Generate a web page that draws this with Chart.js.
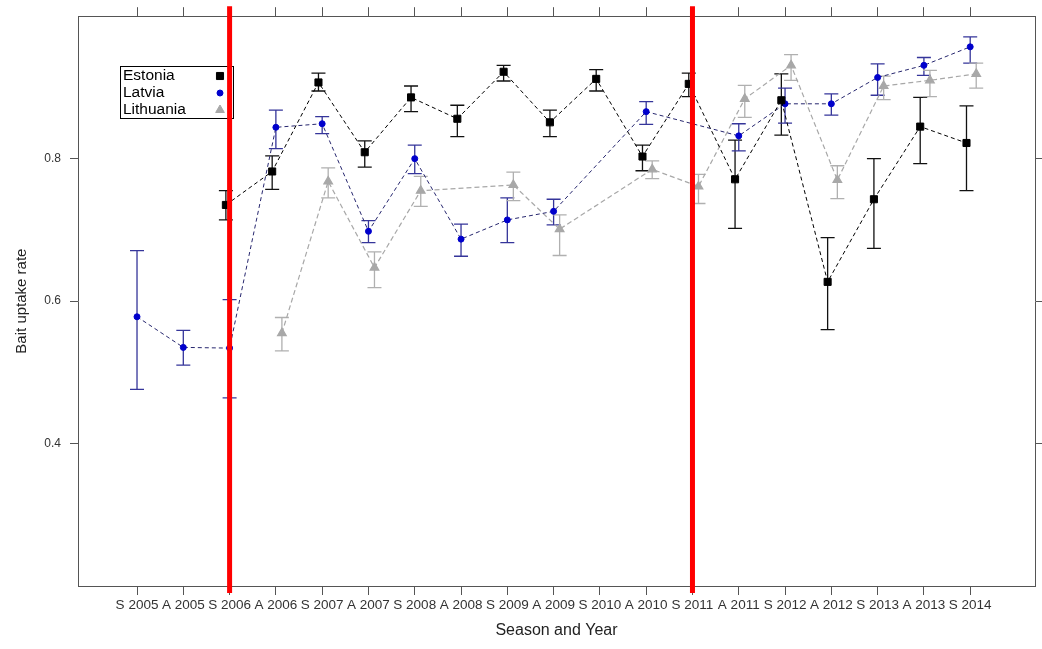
<!DOCTYPE html>
<html>
<head>
<meta charset="utf-8">
<script src="https://cdn.jsdelivr.net/npm/chart.js@4.4.1/dist/chart.umd.min.js"></script>
<style>
  body { margin: 0; background: #fff; }
  canvas { display: block; }
</style>
</head>
<body>
<canvas id="baitChart" width="1042" height="649"></canvas>
<script>
// categorias del eje x
var seasons = ['S 2005','A 2005','S 2006','A 2006','S 2007','A 2007','S 2008','A 2008','S 2009','A 2009',
               'S 2010','A 2010','S 2011','A 2011','S 2012','A 2012','S 2013','A 2013','S 2014'];

// Estonia
var estonia   = [null,null,0.735,0.782,0.907,0.809,0.886,0.856,0.922,0.851,0.912,0.803,0.905,0.771,0.882,0.627,0.743,0.845,0.822];
var estoniaHi = [null,null,0.755,0.804,0.920,0.825,0.902,0.875,0.931,0.868,0.925,0.819,0.920,0.826,0.919,0.689,0.800,0.886,0.874];
var estoniaLo = [null,null,0.714,0.757,0.895,0.788,0.866,0.831,0.909,0.831,0.895,0.783,0.887,0.702,0.833,0.560,0.674,0.793,0.755];

// Latvia
var latvia   = [0.578,0.535,0.534,0.844,0.849,0.698,0.800,0.687,0.714,0.726,null,0.866,null,0.832,0.877,0.877,0.914,0.931,0.957];
var latviaHi = [0.671,0.559,0.602,0.868,0.859,0.713,0.819,0.708,0.745,0.743,null,0.880,null,0.849,0.899,0.891,0.933,0.942,0.971];
var latviaLo = [0.476,0.510,0.464,0.814,0.835,0.682,0.779,0.663,0.682,0.707,null,0.848,null,0.811,0.850,0.861,0.889,0.917,0.934];

// Lithuania
var lithuania   = [null,null,null,0.555,0.768,0.647,0.755,null,0.763,0.701,null,0.785,0.761,0.884,0.931,0.770,0.902,0.910,0.919];
var lithuaniaHi = [null,null,null,0.577,0.787,0.669,0.775,null,0.781,0.721,null,0.797,0.778,0.903,0.946,0.790,0.916,0.924,0.934];
var lithuaniaLo = [null,null,null,0.530,0.745,0.619,0.733,null,0.741,0.664,null,0.772,0.737,0.858,0.910,0.744,0.883,0.887,0.899];

// ticks del eje y y lineas rojas
var yTicks = [0.4, 0.6, 0.8];
var redLines = ['S 2006', 'S 2011'];

var FONT = "'Liberation Sans', Arial, sans-serif";
var AXIS_COLOR = '#555';

// arma los puntos {x,y,lo,hi} con un pequeño corrimiento por pais
function points(vals, lo, hi, shift) {
	var out = [];
	for (var i = 0; i < vals.length; i++) {
		if (vals[i] == null) continue;
		out.push({ x: i + shift, y: vals[i], lo: lo[i], hi: hi[i] });
	}
	return out;
}

function categoryTicks(axis) {
	axis.ticks = seasons.map(function (s, i) { return { value: i }; });
}

// barras de error (antes de dibujar los puntos)
var errorBars = {
	id: 'errorBars',
	beforeDatasetsDraw: function (chart) {
		var ctx = chart.ctx;
		var y = chart.scales.y;
		chart.data.datasets.forEach(function (ds, d) {
			var meta = chart.getDatasetMeta(d);
			ctx.save();
			ctx.strokeStyle = ds.errorColor;
			ctx.lineWidth = 1.3;
			meta.data.forEach(function (pt, i) {
				var raw = ds.data[i];
				var top = y.getPixelForValue(raw.hi);
				var bot = y.getPixelForValue(raw.lo);
				ctx.beginPath();
				ctx.moveTo(pt.x, top); ctx.lineTo(pt.x, bot);
				ctx.moveTo(pt.x - 7, top); ctx.lineTo(pt.x + 7, top);
				ctx.moveTo(pt.x - 7, bot); ctx.lineTo(pt.x + 7, bot);
				ctx.stroke();
			});
			ctx.restore();
		});
	}
};

// lineas rojas verticales
var redMarks = {
	id: 'redMarks',
	afterDraw: function (chart) {
		var ctx = chart.ctx;
		var area = chart.chartArea;
		ctx.save();
		ctx.strokeStyle = '#ff0000';
		ctx.lineWidth = 5;
		redLines.forEach(function (s) {
			var px = chart.scales.x.getPixelForValue(seasons.indexOf(s));
			ctx.beginPath();
			ctx.moveTo(px, area.top - 10);
			ctx.lineTo(px, area.bottom + 7);
			ctx.stroke();
		});
		ctx.restore();
	}
};

// leyenda con simbolos a la derecha
var boxLegend = {
	id: 'boxLegend',
	afterDatasetsDraw: function (chart) {
		var ctx = chart.ctx;
		ctx.save();
		ctx.fillStyle = '#fff';
		ctx.fillRect(120.5, 66.5, 113, 52);
		ctx.strokeStyle = '#000';
		ctx.lineWidth = 1;
		ctx.strokeRect(120.5, 66.5, 113, 52);
		ctx.font = '15.5px ' + FONT;
		ctx.textBaseline = 'middle';
		chart.data.datasets.forEach(function (ds, i) {
			var yy = 76 + i * 17;
			ctx.fillStyle = '#000';
			ctx.fillText(ds.label, 123, yy);
			ctx.fillStyle = ds.pointBackgroundColor;
			ctx.strokeStyle = ds.pointBorderColor;
			Chart.helpers.drawPoint(ctx, {
				pointStyle: ds.pointStyle, radius: ds.pointRadius, rotation: 0, borderWidth: 1
			}, 220, yy);
		});
		ctx.restore();
	}
};

var ctx = document.getElementById('baitChart');
var chart = new Chart(ctx, {
	type: 'line',
	data: {
		datasets: [{
			label: 'Estonia',
			data: points(estonia, estoniaLo, estoniaHi, -0.08),
			borderColor: '#000',
			borderWidth: 1,
			borderDash: [4, 3],
			pointStyle: 'rect',
			pointRadius: 5,
			pointBackgroundColor: '#000',
			pointBorderColor: '#000',
			errorColor: '#111',
			spanGaps: true
		},
		{
			label: 'Latvia',
			data: points(latvia, latviaLo, latviaHi, 0),
			borderColor: '#26266e',
			borderWidth: 1,
			borderDash: [4, 3],
			pointStyle: 'circle',
			pointRadius: 3,
			pointBackgroundColor: '#0000cc',
			pointBorderColor: '#0000cc',
			errorColor: '#35359a',
			spanGaps: true
		},
		{
			label: 'Lithuania',
			data: points(lithuania, lithuaniaLo, lithuaniaHi, 0.13),
			borderColor: '#a8a8a8',
			borderWidth: 1.2,
			borderDash: [5, 3],
			pointStyle: 'triangle',
			pointRadius: 5,
			pointBackgroundColor: '#a8a8a8',
			pointBorderColor: '#a8a8a8',
			errorColor: '#b0b0b0',
			spanGaps: true
		}]
	},
	options: {
		responsive: false,
		animation: false,
		layout: { padding: 0 },
		plugins: {
			legend: { display: false },
			tooltip: { enabled: false }
		},
		scales: {
			x: {
				type: 'linear',
				position: 'bottom',
				min: -1.275,
				max: 19.4,
				afterBuildTicks: categoryTicks,
				afterFit: function (axis) { axis.height = 63; },
				ticks: {
					callback: function (v) { return seasons[v]; },
					font: { family: FONT, size: 13.5 },
					color: '#333',
					padding: 2,
					maxRotation: 0,
					autoSkip: false
				},
				grid: { drawOnChartArea: false, tickLength: 9, color: AXIS_COLOR },
				border: { color: AXIS_COLOR },
				title: {
					display: true,
					text: 'Season and Year',
					font: { family: FONT, size: 16 },
					color: '#222',
					padding: { top: 0, bottom: 9 }
				}
			},
			x2: {
				type: 'linear',
				position: 'top',
				min: -1.275,
				max: 19.4,
				afterBuildTicks: categoryTicks,
				afterFit: function (axis) { axis.height = 14; },
				ticks: { display: false },
				grid: { drawOnChartArea: false, tickLength: 9, color: AXIS_COLOR },
				border: { color: AXIS_COLOR }
			},
			y: {
				min: 0.2,
				max: 1.0,
				afterBuildTicks: function (axis) {
					axis.ticks = yTicks.map(function (v) { return { value: v }; });
				},
				afterFit: function (axis) { axis.width = 78; },
				ticks: {
					callback: function (v) { return v.toFixed(1); },
					font: { family: FONT, size: 12 },
					color: '#333',
					padding: 9
				},
				grid: { drawOnChartArea: false, tickLength: 8, color: AXIS_COLOR },
				border: { color: AXIS_COLOR },
				title: {
					display: true,
					text: 'Bait uptake rate',
					font: { family: FONT, size: 15 },
					color: '#222',
					padding: { top: 13, bottom: 0 }
				}
			},
			y2: {
				position: 'right',
				min: 0.2,
				max: 1.0,
				afterBuildTicks: function (axis) {
					axis.ticks = yTicks.map(function (v) { return { value: v }; });
				},
				afterFit: function (axis) { axis.width = 7; },
				ticks: { display: false },
				grid: { drawOnChartArea: false, tickLength: 7, color: AXIS_COLOR },
				border: { color: AXIS_COLOR }
			}
		}
	},
	plugins: [errorBars, redMarks, boxLegend]
});
</script>
</body>
</html>
